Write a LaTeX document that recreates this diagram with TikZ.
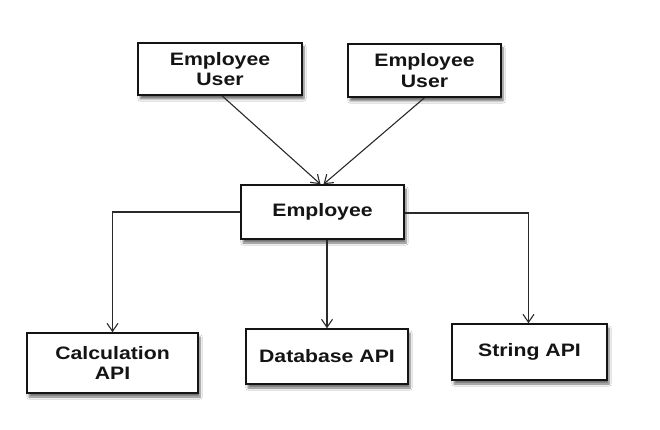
\documentclass[tikz,border=0pt]{standalone}
\usepackage{fontspec}
\setmainfont{Liberation Sans}
\newfontfamily\labfont[FakeStretch=1.18]{Liberation Sans}
\usetikzlibrary{arrows.meta,shadows.blur}
\definecolor{ink}{HTML}{141414}
\definecolor{wire}{HTML}{2A2A2A}
\tikzset{
  boxnode/.style={draw=ink, line width=1.5pt, fill=white, align=center,
    text=ink, inner sep=0pt,
    font=\labfont\bfseries\fontsize{18}{20.5}\selectfont,
    blur shadow={shadow xshift=2pt, shadow yshift=-4pt, shadow blur steps=6, shadow opacity=55}},
  wireline/.style={draw=wire, line width=1.1pt, -{Straight Barb[length=8pt,width=11pt,line width=1.1pt]}}
}
\begin{document}
\begin{tikzpicture}[x=1pt,y=-1pt]
\useasboundingbox[fill=white] (0,0) rectangle (660,430);
\node[boxnode, minimum width=164pt, minimum height=52pt] (eu1) at (220,69) {Employee\\User};
\node[boxnode, minimum width=153pt, minimum height=53pt] (eu2) at (424.5,70.5) {Employee\\User};
\node[boxnode, minimum width=163pt, minimum height=54pt] (emp) at (322.5,212) {Employee};
\node[boxnode, minimum width=171pt, minimum height=60pt] (calc) at (112.5,363) {Calculation\\API};
\node[boxnode, minimum width=162pt, minimum height=55pt] (db) at (327,356.5) {Database API};
\node[boxnode, minimum width=155pt, minimum height=56pt] (str) at (529.5,352) {String API};
\draw[wireline] ([xshift=2pt]eu1.south) -- ([xshift=-2pt]emp.north);
\draw[wireline] (eu2.south) -- ([xshift=1pt]emp.north);
\draw[wireline] (emp.west) -| (calc.north);
\draw[wireline] (emp.south -| db.north) -- (db.north);
\draw[wireline] ([yshift=-1pt]emp.east) -| ([xshift=-1pt]str.north);
\end{tikzpicture}
\end{document}
